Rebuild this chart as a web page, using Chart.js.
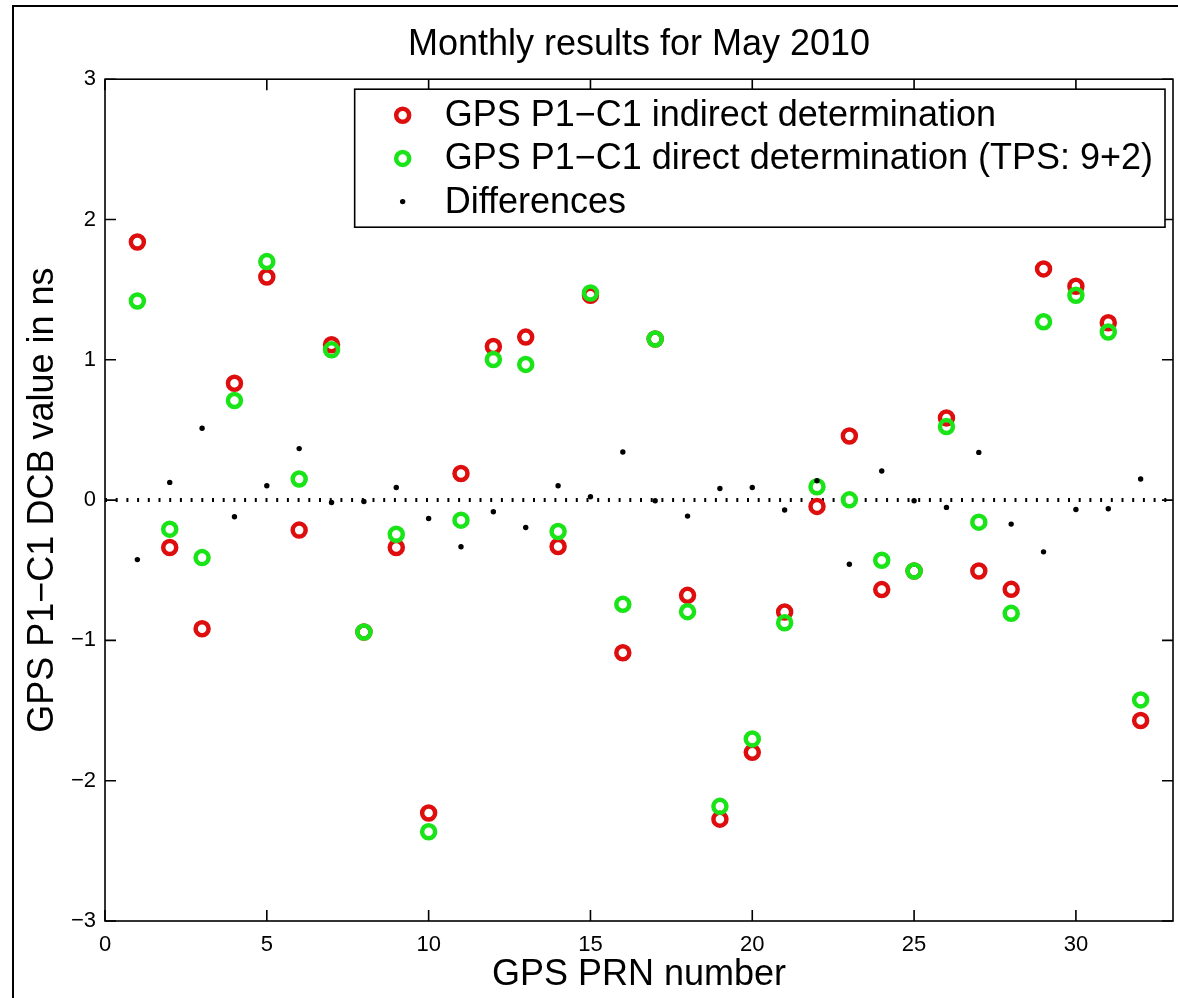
<!DOCTYPE html>
<html>
<head>
<meta charset="utf-8">
<script src="https://cdn.jsdelivr.net/npm/chart.js@4.4.0/dist/chart.umd.min.js"></script>
<style>
html,body{margin:0;padding:0;background:#fff;}
canvas{display:block;}
</style>
</head>
<body>
<canvas id="c" width="1178" height="998"></canvas>
<script>
// ---- data ----
const prn = [1,2,3,4,5,6,7,8,9,10,11,12,13,14,15,16,17,18,19,20,21,22,23,24,25,26,27,28,29,30,31,32];
const indirect = [1.84,-0.338,-0.917,0.833,1.59,-0.214,1.107,-0.94,-0.338,-2.23,0.19,1.095,1.162,-0.331,1.46,-1.088,1.148,-0.679,-2.274,-1.798,-0.798,-0.045,0.457,-0.638,-0.505,0.586,-0.505,-0.636,1.648,1.524,1.264,-1.571];
const direct = [1.419,-0.207,-0.41,0.71,1.70,0.15,1.071,-0.94,-0.243,-2.364,-0.143,1.002,0.967,-0.224,1.476,-0.743,1.148,-0.795,-2.183,-1.702,-0.874,0.095,0.002,-0.429,-0.505,0.524,-0.157,-0.807,1.271,1.46,1.198,-1.424];
const differences = [-0.424,0.126,0.512,-0.119,0.102,0.367,-0.017,-0.01,0.09,-0.131,-0.333,-0.083,-0.195,0.102,0.024,0.343,-0.005,-0.114,0.083,0.09,-0.071,0.138,-0.457,0.207,-0.005,-0.052,0.340,-0.171,-0.369,-0.067,-0.062,0.15];
const xTickValues = [0,5,10,15,20,25,30];
const yTickValues = [-3,-2,-1,0,1,2,3];
const xRange = [0,33];
const yRange = [-3,3];
const zeroLevel = 0;
const seriesLabels = ['GPS P1\u2212C1 indirect determination','GPS P1\u2212C1 direct determination (TPS: 9+2)','Differences'];
const chartTitle = 'Monthly results for May 2010';
const xTitle = 'GPS PRN number';
const yTitle = 'GPS P1\u2212C1 DCB value in ns';

const FONT = "'Liberation Sans', Arial, Helvetica, sans-serif";
const RED = 'rgb(222,14,14)';
const GREEN = 'rgb(24,228,24)';

const pts = (vals) => prn.map((p,i) => ({x:p, y:vals[i]}));

const bgFrame = {
  id:'bgFrame',
  beforeDraw(chart){
    const c = chart.ctx;
    c.save();
    c.fillStyle = '#fff';
    c.fillRect(0,0,chart.width,chart.height);
    c.strokeStyle = '#000';
    c.lineWidth = 2;
    c.strokeRect(13,6,chart.width+40,chart.height+40);
    c.restore();
  }
};

const axesBox = {
  id:'axesBox',
  afterDatasetsDraw(chart){
    const c = chart.ctx;
    const {left,right,top,bottom} = chart.chartArea;
    const xs = chart.scales.x, ys = chart.scales.y;
    const tl = 11;
    c.save();
    c.strokeStyle = '#000';
    c.lineWidth = 1.6;
    c.strokeRect(left,top,right-left,bottom-top);
    c.beginPath();
    xTickValues.forEach(v => {
      const px = xs.getPixelForValue(v);
      c.moveTo(px,bottom); c.lineTo(px,bottom-tl);
      c.moveTo(px,top); c.lineTo(px,top+tl);
    });
    yTickValues.forEach(v => {
      const py = ys.getPixelForValue(v);
      c.moveTo(left,py); c.lineTo(left+tl,py);
      c.moveTo(right,py); c.lineTo(right-tl,py);
    });
    c.stroke();
    c.restore();
  }
};

const boxLegend = {
  id:'boxLegend',
  afterDraw(chart){
    const c = chart.ctx;
    const area = chart.chartArea;
    const items = chart.data.datasets.filter(d => d.inLegend);
    c.save();
    c.font = '36px ' + FONT;
    let maxW = 0;
    items.forEach(d => { maxW = Math.max(maxW, c.measureText(d.label).width); });
    const boxW = 48 + 42 + maxW + 12;
    const rowH = 43.2;
    const boxH = 138;
    const boxRight = area.right - 8;
    const boxTop = area.top + 10;
    const boxLeft = boxRight - boxW;
    c.fillStyle = '#fff';
    c.fillRect(boxLeft,boxTop,boxW,boxH);
    c.strokeStyle = '#000';
    c.lineWidth = 1.6;
    c.strokeRect(boxLeft,boxTop,boxW,boxH);
    items.forEach((d,i) => {
      const cy = boxTop + 26 + i*rowH;
      const mx = boxLeft + 48;
      c.beginPath();
      c.arc(mx,cy,d.pointRadius,0,Math.PI*2);
      if (d.pointBorderWidth > 0) {
        c.strokeStyle = d.pointBorderColor;
        c.lineWidth = d.pointBorderWidth;
        c.stroke();
      } else {
        c.fillStyle = d.pointBackgroundColor;
        c.fill();
      }
      c.fillStyle = '#000';
      c.textAlign = 'left';
      c.textBaseline = 'middle';
      c.fillText(d.label, boxLeft + 90, cy + 1);
    });
    c.restore();
  }
};

new Chart(document.getElementById('c'), {
  type:'scatter',
  data:{
    datasets:[
      {label:seriesLabels[0], inLegend:true, data:pts(indirect), showLine:false,
       pointRadius:6.5, pointHoverRadius:6.5, pointBorderWidth:4.5, pointHoverBorderWidth:4.5,
       pointBorderColor:RED, pointBackgroundColor:'rgba(0,0,0,0)', order:2},
      {label:seriesLabels[1], inLegend:true, data:pts(direct), showLine:false,
       pointRadius:6.5, pointHoverRadius:6.5, pointBorderWidth:4.5, pointHoverBorderWidth:4.5,
       pointBorderColor:GREEN, pointBackgroundColor:'rgba(0,0,0,0)', order:1},
      {label:seriesLabels[2], inLegend:true, data:pts(differences), showLine:false,
       pointRadius:2.7, pointHoverRadius:2.7, pointBorderWidth:0,
       pointBorderColor:'#000', pointBackgroundColor:'#000', order:0},
      {label:'zero', inLegend:false, type:'line',
       data:[{x:xRange[0],y:zeroLevel},{x:xRange[1],y:zeroLevel}],
       showLine:true, pointRadius:0, borderColor:'#000', borderWidth:4,
       borderDash:[2,8.7], fill:false, order:3}
    ]
  },
  options:{
    responsive:false,
    animation:false,
    events:[],
    layout:{autoPadding:false, padding:{left:0,right:5,top:0,bottom:0}},
    plugins:{
      legend:{display:false},
      tooltip:{enabled:false},
      title:{display:true, text:chartTitle, fullSize:false, color:'#000',
        font:{family:FONT, size:36, weight:'normal', lineHeight:1.2},
        padding:{top:23,bottom:13}}
    },
    scales:{
      x:{
        type:'linear', min:xRange[0], max:xRange[1],
        afterBuildTicks(s){ s.ticks = xTickValues.map(v => ({value:v})); },
        afterFit(s){ s.height = 77; s.paddingRight = 0; s.paddingLeft = 0; },
        grid:{display:false, drawTicks:false},
        border:{display:false},
        ticks:{color:'#000', padding:11, maxRotation:0, autoSkip:false, includeBounds:false,
          font:{family:FONT, size:22},
          callback:(v) => String(v).replace('-','\u2212')},
        title:{display:true, text:xTitle, color:'#000',
          font:{family:FONT, size:36, lineHeight:1.2}, padding:{top:0,bottom:1}}
      },
      y:{
        type:'linear', min:yRange[0], max:yRange[1],
        afterBuildTicks(s){ s.ticks = yTickValues.map(v => ({value:v})); },
        afterFit(s){ s.width = 105; },
        grid:{display:false, drawTicks:false},
        border:{display:false},
        ticks:{color:'#000', padding:9, autoSkip:false, includeBounds:false,
          font:{family:FONT, size:22},
          callback:(v) => String(v).replace('-','\u2212')},
        title:{display:true, text:yTitle, color:'#000',
          font:{family:FONT, size:36, lineHeight:1.2}, padding:{top:21,bottom:0}}
      }
    }
  },
  plugins:[bgFrame, axesBox, boxLegend]
});
</script>
</body>
</html>
